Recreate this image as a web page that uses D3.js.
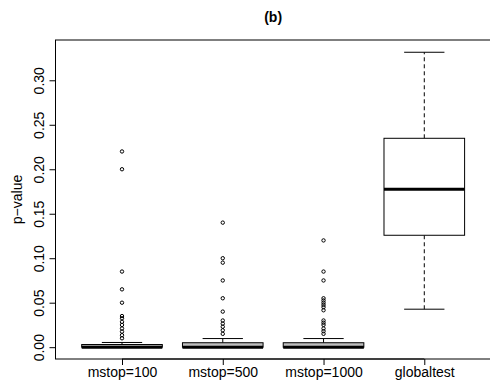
<!DOCTYPE html>
<html>
<head>
<meta charset="utf-8">
<script src="https://cdn.jsdelivr.net/npm/d3@7"></script>
<style>
  body { margin: 0; background: #fff; }
  text { font-family: "Liberation Sans", Arial, sans-serif; }
</style>
</head>
<body>
<div id="chart"></div>
<script>
// groups and box statistics
let groups = ["mstop=100", "mstop=500", "mstop=1000", "globaltest"];
let whiskerLow = [0, 0, 0, 0.0427];
let q1 = [0, 0, 0, 0.1258];
let medians = [0, 0, 0, 0.1775];
let q3 = [0.003, 0.005, 0.005, 0.2348];
let whiskerHigh = [0.0053, 0.0097, 0.0097, 0.3315];
let boxFill = ["#bebebe", "#bebebe", "#bebebe", "#ffffff"];
let outliers = [
    [0.22, 0.20, 0.085, 0.065, 0.05, 0.035, 0.0325, 0.0285, 0.025, 0.021, 0.0175, 0.0135, 0.01],
    [0.14, 0.10, 0.095, 0.075, 0.055, 0.04, 0.03, 0.0265, 0.023, 0.019, 0.015],
    [0.12, 0.085, 0.075, 0.055, 0.0525, 0.05, 0.0475, 0.045, 0.0415, 0.03, 0.0275, 0.025, 0.021, 0.018, 0.015],
    []
];
let yTicks = [0, 0.05, 0.10, 0.15, 0.20, 0.25, 0.30];

let W = 490, H = 388;
let plot = {left: 55.5, right: 490.8, top: 40, bottom: 359};

let svg = d3.select("#chart").append("svg")
    .attr("width", W)
    .attr("height", H);

// R style: x from 0.5..4.5 padded by 4%
let x = d3.scaleLinear().domain([0.34, 4.66]).range([plot.left, plot.right]);
let y = d3.scaleLinear().domain([-0.01328, 0.34528]).range([plot.bottom, plot.top]);
let boxW = x(1.4) - x(1);   // half width 0.4
let capW = x(1.2) - x(1);   // half width 0.2

// title
svg.append("text")
    .attr("x", (plot.left + plot.right) / 2)
    .attr("y", 22)
    .attr("text-anchor", "middle")
    .style("font-weight", "bold")
    .style("font-size", "14px")
    .text("(b)");

let g = svg.append("g");

groups.forEach((name, i) => {
    let cx = x(i + 1);
    // whiskers
    g.append("line")
        .attr("x1", cx).attr("x2", cx)
        .attr("y1", y(q3[i])).attr("y2", y(whiskerHigh[i]))
        .attr("stroke", "#000").attr("stroke-dasharray", "4,3");
    g.append("line")
        .attr("x1", cx).attr("x2", cx)
        .attr("y1", y(q1[i])).attr("y2", y(whiskerLow[i]))
        .attr("stroke", "#000").attr("stroke-dasharray", "4,3");
    // caps
    [whiskerHigh[i], whiskerLow[i]].forEach(v => {
        g.append("line")
            .attr("x1", cx - capW).attr("x2", cx + capW)
            .attr("y1", y(v)).attr("y2", y(v))
            .attr("stroke", "#000");
    });
    // box
    g.append("rect")
        .attr("x", cx - boxW)
        .attr("y", y(q3[i]))
        .attr("width", 2 * boxW)
        .attr("height", y(q1[i]) - y(q3[i]))
        .attr("fill", boxFill[i])
        .attr("stroke", "#000");
    // median
    g.append("line")
        .attr("x1", cx - boxW).attr("x2", cx + boxW)
        .attr("y1", y(medians[i])).attr("y2", y(medians[i]))
        .attr("stroke", "#000").attr("stroke-width", 3);
    // outliers
    g.selectAll(null)
        .data(outliers[i])
        .enter()
        .append("circle")
        .attr("cx", cx)
        .attr("cy", d => y(d))
        .attr("r", 1.7)
        .attr("fill", "none")
        .attr("stroke", "#000")
        .attr("stroke-width", 1);
});

// plot frame
svg.append("rect")
    .attr("x", plot.left).attr("y", plot.top)
    .attr("width", plot.right - plot.left)
    .attr("height", plot.bottom - plot.top)
    .attr("fill", "none")
    .attr("stroke", "#000");

// y axis
let yAxis = d3.axisLeft(y)
    .tickValues(yTicks)
    .tickSize(6)
    .tickPadding(0)
    .tickFormat(d3.format(".2f"));
let ya = svg.append("g")
    .attr("transform", "translate(" + plot.left + ",0)")
    .call(yAxis);
ya.select(".domain").attr("d", "M-6," + y(0) + "H0M0," + y(0) + "V" + y(0.30)).attr("stroke", "#000");
ya.select(".domain").attr("d", "M0," + y(0) + "V" + y(0.30));
ya.selectAll(".tick text")
    .attr("x", 0).attr("y", 0)
    .attr("dy", 0)
    .attr("transform", "translate(-11.5,0) rotate(-90)")
    .attr("text-anchor", "middle")
    .style("font-size", "14px")
    .style("font-family", "'Liberation Sans', Arial, sans-serif")
    .attr("fill", "#000");
ya.selectAll(".tick line").attr("stroke", "#000");

// x axis
let xAxis = d3.axisBottom(x)
    .tickValues([1, 2, 3, 4])
    .tickSize(6)
    .tickPadding(6)
    .tickFormat((d, i) => groups[i]);
let xa = svg.append("g")
    .attr("transform", "translate(0," + plot.bottom + ")")
    .call(xAxis);
xa.select(".domain").attr("d", "M" + x(1) + ",0H" + x(4)).attr("stroke", "#000");
xa.selectAll(".tick line").attr("stroke", "#000");
xa.selectAll(".tick text")
    .attr("y", 18)
    .attr("dy", 0)
    .style("font-size", "14px")
    .style("font-family", "'Liberation Sans', Arial, sans-serif")
    .attr("fill", "#000");

// y label
svg.append("text")
    .attr("transform", "translate(22," + ((plot.top + plot.bottom) / 2) + ") rotate(-90)")
    .attr("text-anchor", "middle")
    .style("font-size", "14px")
    .text("p\u2212value");
</script>
</body>
</html>
